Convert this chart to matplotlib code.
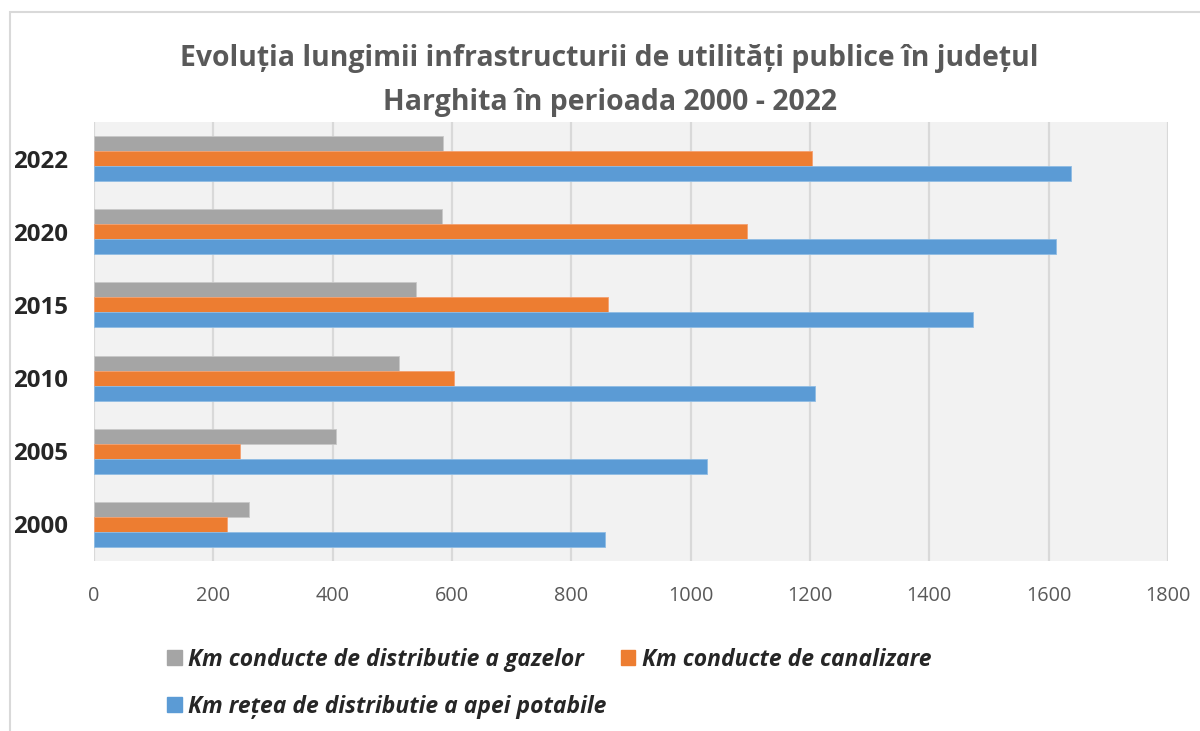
import matplotlib
matplotlib.use("Agg")
import matplotlib.pyplot as plt
from matplotlib.patches import Patch, Rectangle
import numpy as np

# data
years = ["2000", "2005", "2010", "2015", "2020", "2022"]
gaz = [260, 406, 511, 539, 583, 585]
canalizare = [223, 245, 604, 862, 1095, 1204]
apa = [857, 1027, 1209, 1473, 1612, 1637]

lbl_gaz = "Km conducte de distributie a gazelor"
lbl_can = "Km conducte de canalizare"
lbl_apa = "Km rețea de distributie a apei potabile"

c_gaz = "#a5a5a5"
c_can = "#ed7d31"
c_apa = "#5b9bd5"

plt.rcParams['font.family'] = ['Open Sans', 'DejaVu Sans']

fig = plt.figure(figsize=(12, 7.31), dpi=100)
ax = fig.add_axes([94 / 1200, 1 - 561 / 731, (1168 - 94) / 1200, (561 - 122) / 731])

# chart frame (runs off the right and bottom of the picture)
fig.patches.append(Rectangle((10 / 1200, -0.1), 1.2, 1 - 12 / 731 + 0.1,
                             transform=fig.transFigure, fill=False,
                             edgecolor="#d9d9d9", linewidth=1.5))

y = np.arange(len(years))
h = 0.205
ax.barh(y + h, gaz, height=h, color=c_gaz, edgecolor="#c8c8c8", linewidth=0.6, zorder=3)
ax.barh(y, canalizare, height=h, color=c_can, edgecolor="#f4a070", linewidth=0.6, zorder=3)
ax.barh(y - h, apa, height=h, color=c_apa, edgecolor="#8fbce4", linewidth=0.6, zorder=3)

ax.set_xlim(0, 1800)
ax.set_ylim(-0.5, len(years) - 0.5)
ax.set_xticks(np.arange(0, 1801, 200))
ax.set_yticks(y)
ax.set_yticklabels(years, fontsize=17.3, fontweight="bold", color="#262626")
ax.tick_params(axis="x", labelsize=14.3, colors="#595959", length=0, pad=18)
ax.tick_params(axis="y", length=0, pad=19)
ax.set_facecolor("#f2f2f2")
ax.grid(axis="x", color="#d9d9d9", linewidth=1.6, zorder=0)
for s in ax.spines.values():
    s.set_visible(False)

fig.text(0.508, 1 - 66 / 731, "Evoluția lungimii infrastructurii de utilități publice în județul",
         ha="center", va="baseline", fontsize=20.4, fontweight="bold", color="#595959")
fig.text(0.508, 1 - 110 / 731, "Harghita în perioada 2000 - 2022",
         ha="center", va="baseline", fontsize=20.4, fontweight="bold", color="#595959")

handles = [Patch(color=c_gaz, label=lbl_gaz), Patch(color=c_apa, label=lbl_apa),
           Patch(color=c_can, label=lbl_can)]
fig.legend(handles=handles, ncol=2, loc="upper left",
           bbox_to_anchor=(146 / 1200, 1 - 627 / 731), frameon=False,
           prop={"size": 16.5, "weight": "bold", "style": "italic"},
           labelcolor="#262626", handlelength=0.65, handleheight=0.65,
           handletextpad=0.3, columnspacing=0.6, labelspacing=1.0)

fig.savefig("out.png", dpi=100)
